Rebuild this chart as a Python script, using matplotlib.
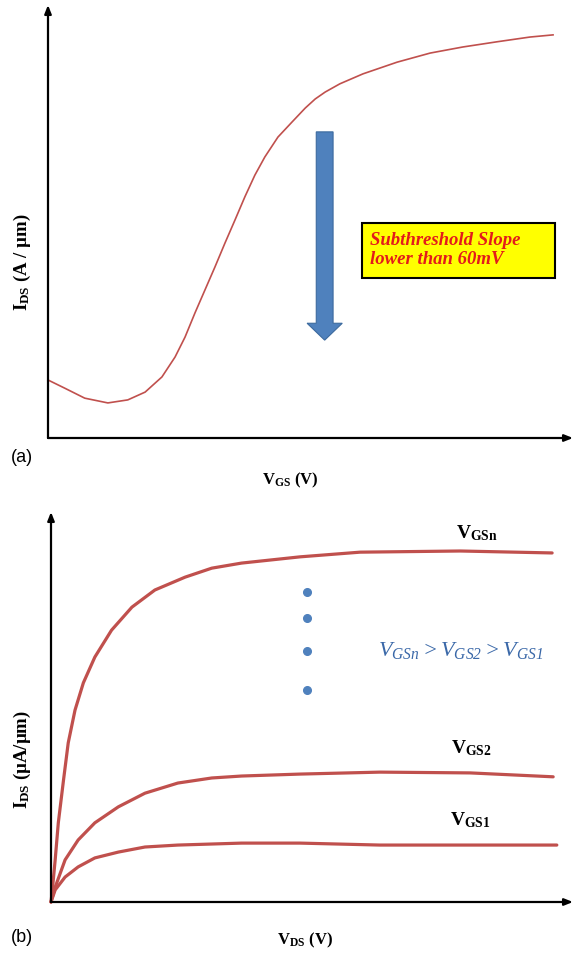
import matplotlib
matplotlib.use('Agg')
import matplotlib.pyplot as plt
from matplotlib.patches import FancyArrow, Rectangle

plt.rcParams['font.family'] = ['Liberation Serif', 'DejaVu Serif']
plt.rcParams['mathtext.fontset'] = 'custom'
plt.rcParams['mathtext.rm'] = 'Liberation Serif:italic'
plt.rcParams['mathtext.it'] = 'Liberation Serif:italic'
plt.rcParams['mathtext.bf'] = 'Liberation Serif:bold'

# (a) transfer curve, arbitrary units 0..10
vgs = [0.0, 0.32, 0.70, 1.14, 1.52, 1.85, 2.17, 2.42, 2.61, 2.80, 2.99, 3.18,
       3.37, 3.56, 3.75, 3.94, 4.13, 4.38, 4.65, 4.90, 5.09, 5.28, 5.56, 6.00,
       6.65, 7.28, 7.90, 8.55, 9.18, 9.62]
ids_a = [1.34, 1.15, 0.92, 0.81, 0.88, 1.06, 1.41, 1.87, 2.33, 2.89, 3.42, 3.95,
         4.50, 5.03, 5.57, 6.07, 6.49, 6.95, 7.30, 7.62, 7.83, 7.99, 8.18, 8.41,
         8.68, 8.89, 9.03, 9.15, 9.26, 9.31]

# (b) output curves
vds_n = [0, 0.02, 0.08, 0.14, 0.24, 0.33, 0.46, 0.62, 0.84, 1.16, 1.55, 1.99,
         2.57, 3.08, 3.65, 4.77, 5.92, 7.84, 9.60]
ids_n = [0, 0.23, 1.08, 2.03, 3.13, 4.08, 4.92, 5.62, 6.28, 6.97, 7.56, 8.00,
         8.33, 8.56, 8.69, 8.85, 8.97, 9.00, 8.95]
vds_2 = [0, 0.08, 0.27, 0.52, 0.84, 1.29, 1.80, 2.43, 3.08, 3.65, 4.77, 6.30,
         8.03, 9.62]
ids_2 = [0, 0.38, 1.08, 1.59, 2.03, 2.44, 2.79, 3.05, 3.18, 3.23, 3.28, 3.33,
         3.31, 3.21]
vds_1 = [0, 0.08, 0.27, 0.52, 0.84, 1.29, 1.80, 2.43, 3.65, 4.77, 6.30, 9.69]
ids_1 = [0, 0.31, 0.64, 0.90, 1.13, 1.28, 1.41, 1.46, 1.51, 1.51, 1.46, 1.46]
dots_x = [4.9, 4.9, 4.9, 4.9]
dots_y = [7.95, 7.28, 6.44, 5.44]

curve_color = '#C0504D'
blue = '#4F81BD'

W, H = 573, 957
fig = plt.figure(figsize=(W / 100, H / 100), dpi=100)


def px_axes(x0, y0, x1, y1):
    # x0,y0 = origin pixel, x1 = right end, y1 = top end
    return fig.add_axes([x0 / W, 1 - y0 / H, (x1 - x0) / W, (y0 - y1) / H])


def style(ax):
    ax.set_xlim(0, 10)
    ax.set_ylim(0, 10)
    for s in ax.spines.values():
        s.set_visible(False)
    ax.set_xticks([])
    ax.set_yticks([])
    ax.patch.set_alpha(0)
    for end in [(1, 0), (0, 1)]:
        ax.annotate('', xy=end, xytext=(0, 0), xycoords='axes fraction',
                    arrowprops=dict(arrowstyle='-|>,head_length=0.5,head_width=0.2',
                                    lw=1.6, color='black', shrinkA=0, shrinkB=0))


def ftext(x, y, s, **kw):
    fig.text(x / W, 1 - y / H, s, ha='center', va='center', **kw)


# ---- panel (a)
ax1 = px_axes(48, 438, 573, 5)
style(ax1)
ax1.plot(vgs, ids_a, color=curve_color, lw=1.2, clip_on=False,
         solid_joinstyle='round')
ax1.add_patch(FancyArrow(5.27, 7.07, 0, -4.81, width=0.32, head_width=0.67,
                         head_length=0.39, length_includes_head=True,
                         facecolor=blue, edgecolor='#3C6A9E', lw=0.8))
ax1.add_patch(Rectangle((5.98, 3.70), 3.68, 1.27, facecolor='#FFFF00',
                        edgecolor='black', lw=1.5))
ax1.text(6.13, 4.34, 'Subthreshold Slope\nlower than 60mV', color='#E31B1B',
         fontsize=13.5, fontweight='bold', fontstyle='italic', va='center',
         ha='left', linespacing=1.15)

ftext(22, 262, r'I$_{\mathbf{DS}}$ (A / µm)', rotation=90, fontsize=13.5, fontweight='bold')
ftext(290, 480, r'V$_{\mathbf{GS}}$ (V)', fontsize=12, fontweight='bold')
ftext(22, 458, '(a)', fontsize=13, family='Liberation Sans')

# ---- panel (b)
ax2 = px_axes(51, 902, 573, 512)
style(ax2)
for xs, ys in [(vds_n, ids_n), (vds_2, ids_2), (vds_1, ids_1)]:
    ax2.plot(xs, ys, color=curve_color, lw=2.3, clip_on=False,
             solid_capstyle='round', solid_joinstyle='round')
ax2.plot(dots_x, dots_y, 'o', color=blue, ms=5.5, clip_on=False)
ax2.text(7.85, 6.44, r'$\mathit{V}_{\mathit{GSn}} > \mathit{V}_{\mathit{GS2}} > \mathit{V}_{\mathit{GS1}}$',
         color='#3A68A8', fontsize=16, ha='center', va='center')

ftext(477, 533, r'V$_{\mathbf{GSn}}$', fontsize=14, fontweight='bold')
ftext(471, 748, r'V$_{\mathbf{GS2}}$', fontsize=14, fontweight='bold')
ftext(470, 820, r'V$_{\mathbf{GS1}}$', fontsize=14, fontweight='bold')

ftext(22, 760, r'I$_{\mathbf{DS}}$ (µA/µm)', rotation=90, fontsize=13.5, fontweight='bold')
ftext(305, 940, r'V$_{\mathbf{DS}}$ (V)', fontsize=12, fontweight='bold')
ftext(22, 938, '(b)', fontsize=13, family='Liberation Sans')

fig.savefig('out.png', dpi=100)
